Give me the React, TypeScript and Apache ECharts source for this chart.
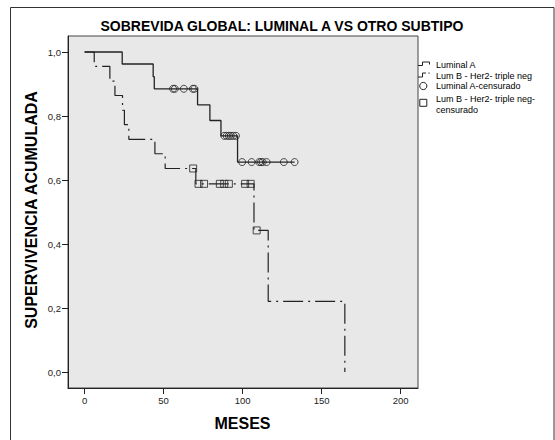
import React, { useEffect, useRef } from "react";
import * as echarts from "echarts";

// Kaplan-Meier steps (time in months, cumulative survival after event)
const lumATimes = [0, 23.8, 43.4, 44.1, 71.5, 79.3, 86.3, 96.8, 132.9];
const lumASurv = [1.0, 0.9625, 0.923, 0.885, 0.835, 0.786, 0.738, 0.656, 0.656];

const lumBTimes = [0, 6.1, 16, 19.2, 24, 25.2, 28, 44.5, 51, 70.4, 107.2, 116.2, 164.7];
const lumBSurv = [1.0, 0.955, 0.909, 0.864, 0.818, 0.773, 0.727, 0.682, 0.636, 0.588, 0.4425, 0.2205, 0.0];

// censored observations
const lumACensTimes = [56, 57.1, 62.8, 68.5, 69.5, 88.4, 89.9, 91.3, 92.6, 94.1, 95.8, 99.7, 105.7, 110.5, 111.6, 112.7, 115.2, 126.1, 132.9];
const lumACensSurv = [0.885, 0.885, 0.885, 0.885, 0.885, 0.738, 0.738, 0.738, 0.738, 0.738, 0.738, 0.656, 0.656, 0.656, 0.656, 0.656, 0.656, 0.656, 0.656];

const lumBCensTimes = [68.7, 72.1, 75.6, 85.6, 88.4, 91.3, 101.6, 105.1, 108.9];
const lumBCensSurv = [0.636, 0.588, 0.588, 0.588, 0.588, 0.588, 0.588, 0.588, 0.4425];

const xTicks = [0, 50, 100, 150, 200];
const yTicks = [0, 0.2, 0.4, 0.6, 0.8, 1.0];

const titleText = "SOBREVIDA GLOBAL: LUMINAL A VS OTRO SUBTIPO";
const xTitle = "MESES";
const yTitle = "SUPERVIVENCIA ACUMULADA";
const legendNames = ["Luminal A", "Lum B - Her2- triple neg", "Luminal A-censurado", "Lum B - Her2- triple neg-\ncensurado"];

const FONT = 'Arial, "Liberation Sans", sans-serif';
const INK = "#222";
const DASH = [20, 5, 2, 5];

export default function App() {
  const ref = useRef<HTMLDivElement>(null);
  useEffect(() => {
    if (!ref.current) return;
    const chart = echarts.init(ref.current, null, { renderer: "svg" });
    const zip = (a: number[], b: number[]) => a.map((t, i) => [t, b[i]]);
    chart.setOption({
      animation: false,
      backgroundColor: "#fff",
      grid: {
        left: 68,
        top: 36,
        right: 137,
        bottom: 52,
        show: true,
        backgroundColor: "#e8e8e8",
        borderColor: "#444",
        borderWidth: 1,
      },
      xAxis: {
        type: "value",
        min: -10.5,
        max: 211,
        splitLine: { show: false },
        axisLine: { show: true, onZero: false, lineStyle: { color: INK, width: 1 } },
        axisTick: { show: true, length: 6, customValues: xTicks, lineStyle: { color: INK } },
        axisLabel: { customValues: xTicks, fontSize: 9.5, color: INK, fontFamily: FONT, margin: 7 },
      },
      yAxis: {
        type: "value",
        min: -0.05,
        max: 1.05,
        splitLine: { show: false },
        axisLine: { show: true, onZero: false, lineStyle: { color: INK, width: 1 } },
        axisTick: { show: true, length: 6, customValues: yTicks, lineStyle: { color: INK } },
        axisLabel: {
          customValues: yTicks,
          fontSize: 9.5,
          color: INK,
          fontFamily: FONT,
          margin: 7,
          formatter: (v: number) => v.toFixed(1).replace(".", ","),
        },
      },
      series: [
        {
          name: legendNames[0],
          type: "line",
          step: "end",
          showSymbol: false,
          data: zip(lumATimes, lumASurv),
          lineStyle: { color: INK, width: 1.3 },
          z: 3,
        },
        {
          name: legendNames[1],
          type: "line",
          step: "end",
          showSymbol: false,
          data: zip(lumBTimes, lumBSurv),
          lineStyle: { color: INK, width: 1.2, type: DASH },
          z: 3,
        },
        {
          name: legendNames[2],
          type: "scatter",
          symbol: "circle",
          symbolSize: 7,
          data: zip(lumACensTimes, lumACensSurv),
          itemStyle: { color: "rgba(0,0,0,0)", borderColor: INK, borderWidth: 1 },
          z: 4,
        },
        {
          name: legendNames[3],
          type: "scatter",
          symbol: "rect",
          symbolSize: 7,
          data: zip(lumBCensTimes, lumBCensSurv),
          itemStyle: { color: "rgba(0,0,0,0)", borderColor: INK, borderWidth: 1 },
          z: 4,
        },
      ],
      graphic: [
        {
          type: "rect",
          shape: { x: 10.5, y: 7.5, width: 543.5, height: 460 },
          style: { fill: "none", stroke: "#333", lineWidth: 1 },
          silent: true,
        },
        {
          type: "text",
          x: 282,
          y: 25.5,
          style: { text: titleText, font: `bold 14px ${FONT}`, fill: "#000", align: "center", verticalAlign: "middle" },
        },
        {
          type: "text",
          x: 31,
          y: 210,
          rotation: Math.PI / 2,
          style: { text: yTitle, font: `bold 16px ${FONT}`, fill: "#000", align: "center", verticalAlign: "middle" },
        },
        {
          type: "text",
          x: 242.5,
          y: 423,
          style: { text: xTitle, font: `bold 16px ${FONT}`, fill: "#000", align: "center", verticalAlign: "middle" },
        },
        // legend
        {
          type: "polyline",
          shape: { points: [[418, 65.5], [422.5, 65.5], [422.5, 62], [429.5, 62], [429.5, 64.5]] },
          style: { stroke: INK, lineWidth: 1, fill: "none" },
        },
        {
          type: "text",
          x: 436,
          y: 64.5,
          style: { text: legendNames[0], font: `9px ${FONT}`, fill: "#000", verticalAlign: "middle" },
        },
        {
          type: "polyline",
          shape: { points: [[418, 77], [422.5, 77], [422.5, 73], [426, 73]] },
          style: { stroke: INK, lineWidth: 1, fill: "none" },
        },
        {
          type: "rect",
          shape: { x: 428.5, y: 72.5, width: 1, height: 1.2 },
          style: { fill: INK },
        },
        {
          type: "text",
          x: 436,
          y: 75.5,
          style: { text: legendNames[1], font: `9px ${FONT}`, fill: "#000", verticalAlign: "middle" },
        },
        {
          type: "circle",
          shape: { cx: 423.3, cy: 86, r: 3.6 },
          style: { stroke: INK, lineWidth: 1, fill: "none" },
        },
        {
          type: "text",
          x: 436,
          y: 86,
          style: { text: legendNames[2], font: `9px ${FONT}`, fill: "#000", verticalAlign: "middle" },
        },
        {
          type: "rect",
          shape: { x: 419.8, y: 99.3, width: 7, height: 7 },
          style: { stroke: INK, lineWidth: 1, fill: "none" },
        },
        {
          type: "text",
          x: 436,
          y: 104.5,
          style: { text: legendNames[3], font: `9px ${FONT}`, fill: "#000", verticalAlign: "middle", lineHeight: 10.5 },
        },
      ],
    });
    return () => chart.dispose();
  }, []);
  return <div ref={ref} style={{ position: "absolute", left: 0, top: 0, width: 555, height: 440 }} />;
}
